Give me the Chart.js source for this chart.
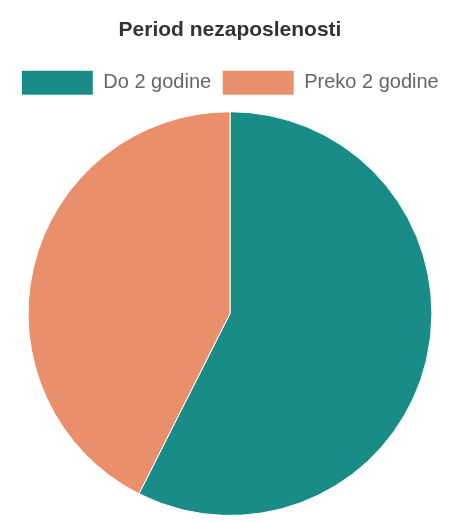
<!DOCTYPE html>
<html>
<head>
<meta charset="utf-8">
<script src="https://cdn.jsdelivr.net/npm/chart.js@4"></script>
<style>
  html, body { margin: 0; padding: 0; background: #fff; }
  #wrap { width: 452px; height: 522px; }
</style>
</head>
<body>
<div id="wrap"><canvas id="pieChart"></canvas></div>
<script>
const labels = ['Do 2 godine', 'Preko 2 godine'];
const values = [27, 20];
const colors = ['#198c88', '#e98f6c'];

Chart.defaults.font.family = '"Liberation Sans", Arial, sans-serif';

// extra space under the legend
const legendMargin = {
    id: 'legendMargin',
    afterInit(chart) {
        const fit = chart.legend.fit;
        chart.legend.fit = function () {
            fit.bind(chart.legend)();
            this.height += 6;
        };
    }
};

const ctx = document.getElementById('pieChart');
new Chart(ctx, {
    type: 'pie',
    data: {
        labels: labels,
        datasets: [{
            data: values,
            backgroundColor: colors,
            borderColor: '#ffffff',
            borderWidth: 1
        }]
    },
    options: {
        responsive: true,
        maintainAspectRatio: false,
        animation: false,
        layout: {
            padding: { top: 0, bottom: 6, left: 8, right: 0 }
        },
        plugins: {
            title: {
                display: true,
                text: 'Period nezaposlenosti',
                color: '#333',
                font: { size: 21, weight: 'bold' },
                padding: { top: 18, bottom: 16 }
            },
            legend: {
                position: 'top',
                labels: {
                    boxWidth: 72,
                    boxHeight: 25,
                    color: '#666',
                    font: { size: 20 },
                    padding: 11
                }
            },
            tooltip: { enabled: false }
        }
    },
    plugins: [legendMargin]
});
</script>
</body>
</html>
